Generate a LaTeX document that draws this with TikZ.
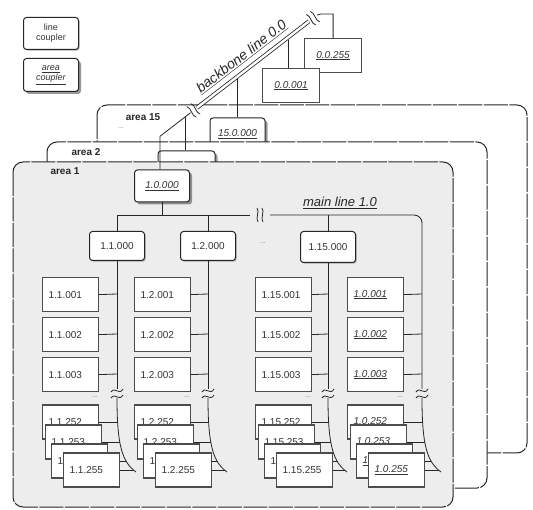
\documentclass[tikz,border=0pt]{standalone}
\usepackage{fontspec}
\setmainfont{Liberation Sans}
\usetikzlibrary{shadows}
\newcommand\fmtn[1]{#1}
\newcommand\fmtu[1]{\underline{\textit{#1}}}
\newcommand\brkmk[3]{\begin{scope}[shift={(#1,#2)},rotate=#3]
  \draw[ln] (-3,-7) .. controls (0,-3) and (-5,3) .. (-2,7);
  \draw[ln] (2,-7) .. controls (5,-3) and (0,3) .. (3,7);
\end{scope}}
\newcommand\busbrk[2]{%
  \draw[ln] (#1-6,#2-1) .. controls (#1-2,#2-7) and (#1+2,#2+3) .. (#1+6,#2-4);
  \draw[ln] (#1-6,#2+5) .. controls (#1-2,#2-1) and (#1+2,#2+9) .. (#1+6,#2+2);}
\tikzset{
  ln/.style={line width=0.8pt, draw=black!85},
  area/.style={draw=black!85, line width=1pt, dash pattern=on 24pt off 1.5pt, rounded corners=10pt},
  dev/.style={rectangle, draw=black!70, line width=1.2pt, fill=white, minimum width=56pt,
    minimum height=34pt, inner xsep=6pt, inner ysep=0pt, text width=44pt, align=left,
    font=\fontsize{10}{12}\selectfont, text=black!80},
  devc/.style={dev, align=center},
  lcp/.style={rectangle, rounded corners=3pt, draw=black!85, line width=1pt, fill=white,
    minimum width=55pt, minimum height=29pt, inner sep=0pt, align=center,
    font=\fontsize{10}{12}\selectfont, text=black!80,
    drop shadow={shadow xshift=1.2pt, shadow yshift=-1.2pt, fill=black!60}},
  acp/.style={rectangle, rounded corners=3pt, draw=black!85, line width=1pt, fill=white,
    minimum width=55pt, minimum height=32pt, inner sep=0pt, align=center,
    font=\fontsize{10}{12}\selectfont, text=black!80,
    drop shadow={shadow xshift=2.5pt, shadow yshift=-2.5pt, fill=black!80}},
  arealab/.style={font=\bfseries\fontsize{10}{12}\selectfont, text=black!85},
  dots/.style={font=\fontsize{7}{8}\selectfont, text=black!50},
}
\begin{document}
\begin{tikzpicture}[x=1pt,y=-1pt]
\useasboundingbox (0,0) rectangle (533,510);
\fill[white] (0,0) rectangle (533,510);
% legend
\node[lcp, minimum height=32pt, anchor=north west, font=\fontsize{9}{10}\selectfont] (leg1) at (23,17) {line\\coupler};
\node[acp, minimum height=33pt, anchor=north west, font=\fontsize{9}{10}\selectfont] (leg2) at (23,58) {\underline{\textit{area}}\\\underline{\textit{coupler}}};
% area 15
\draw[area, fill=white] (97,105) rectangle (527,453);
\node[arealab] (lab15) at (143,117) {area 15};
\node[dots] (lab15d) at (121,128) {...};
\node[acp] (ac15) at (237.5,134) {\underline{\textit{15.0.000}}};
% area 2
\draw[area, fill=white] (47,142) rectangle (487,488);
\node[acp, minimum width=57pt, minimum height=30pt] (ac2) at (186.5,166) {};
\node[arealab] (lab2) at (86,152) {area 2};
% area 1
\draw[area, fill=black!7] (13,162) rectangle (453,507);
\node[arealab] (lab1) at (65,171) {area 1};
% backbone devices
\node[devc, minimum width=57pt, text width=45pt, anchor=north west] (bb255) at (304,38) {\fmtu{0.0.255}};
\node[devc, minimum width=57pt, text width=45pt, anchor=north west] (bb001) at (262,68) {\fmtu{0.0.001}};
% area coupler 1
\node[acp] (ac10) at (162,186) {\underline{\textit{1.0.000}}};
% backbone line
\coordinate (bbA) at (160,136.3);
\coordinate (bbB) at (190.5,112.8);
\coordinate (bbC) at (197,107.7);
\coordinate (bbD) at (309,21.3);
\coordinate (bbE) at (317,15.1);
\draw[ln] (bbA |- ac10.north) -- (bbA) -- (bbB);
\brkmk{193.5}{110.4}{37.67}
\draw[line width=0.8pt, draw=black!85, double=white, double distance=2.4pt] (bbC) -- (bbD)
  node[pos=0.47, sloped, above=3pt, font=\itshape\fontsize{14}{16}\selectfont, text=black!85] (bblab) {\underline{backbone line 0.0}};
\brkmk{313}{18.2}{37.67}
\draw[ln] (bbE) -- (321,14) -- (330,14) -- (330,14 -| bb255.north) -- (bb255.north);
\draw[ln] (185,117) -- (185,117 |- ac2.north);
\draw[ln] (237.5,79) -- (ac15.north);
\draw[ln] (288,40) -- (288,40 |- bb001.north);
% line couplers
\node[lcp] (lc11) at (117,246) {1.1.000};
\node[lcp] (lc12) at (208,246) {1.2.000};
\node[lcp, minimum height=31pt] (lc115) at (328,247) {1.15.000};
\node[dots] (cdots) at (263,243) {...};
% main line
\draw[ln] (lc11.north) |- (250,215);
\brkmk{260}{215}{0}
\draw[ln, rounded corners=8pt] (270,215) -- (422,215) -- (422,389);
\draw[ln] (lc12.north) -- (lc12.north |- 0,215);
\draw[ln] (lc115.north) -- (lc115.north |- 0,215);
\draw[ln] (ac10.south) -- (ac10.south |- 0,215);
\node[font=\itshape\fontsize{13}{15}\selectfont, text=black!85] (mll) at (340,203) {\underline{main line 1.0}};
\draw[ln] (lc11.south) -- (117,389);
\draw[ln] (lc12.south) -- (208,389);
\draw[ln] (lc115.south) -- (328,389);
% device columns
\foreach \c/\L/\X/\p/\f in {a/42/117/1.1./n, b/134/208/1.2./n, c/255/328/1.15./n, d/347/422/1.0./u}{
  \node[dev, anchor=north west] (\c-r1) at (\L,277) {\csname fmt\f\endcsname{\p001}};
  \node[dev, anchor=north west] (\c-r2) at (\L,317) {\csname fmt\f\endcsname{\p002}};
  \node[dev, anchor=north west] (\c-r3) at (\L,357) {\csname fmt\f\endcsname{\p003}};
  \draw[ln] (\c-r1.east) -- (\X,294);
  \draw[ln] (\c-r2.east) -- (\X,334);
  \draw[ln] (\c-r3.east) -- (\X,374);
  \node[dots] (\c-dd) at (\L+53,397) {...};
  \busbrk{\X}{393}
  \draw[ln] (\X,398) .. controls (\X,445) and (\X+5,462) .. (\X+19,472);
  \node[dev, anchor=west] (\c-s2) at (\L,422) {\csname fmt\f\endcsname{\p252}};
  \draw[ln] (\c-s2.east) -- (\X+0.5,422);
  \node[dev, anchor=west] (\c-s3) at (\L+3,442) {\csname fmt\f\endcsname{\p253}};
  \draw[ln] (\c-s3.east) -- (\X+2.7,442);
  \node[dev, anchor=west] (\c-s4) at (\L+9,461) {\csname fmt\f\endcsname{\p254}};
  \draw[ln] (\c-s4.east) -- (\X+8.7,461);
  \node[dev, anchor=west] (\c-s5) at (\L+21,470) {\csname fmt\f\endcsname{\p255}};
  \draw[ln] (\c-s5.east) -- (\X+17,470);
}
\end{tikzpicture}
\end{document}
